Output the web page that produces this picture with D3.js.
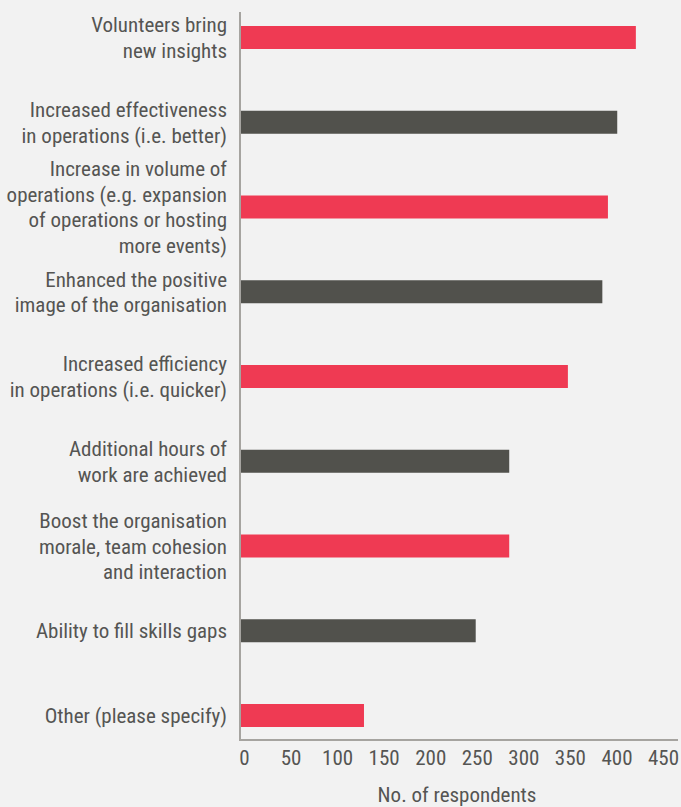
<!DOCTYPE html>
<html>
<head>
<meta charset="utf-8">
<script src="https://cdn.jsdelivr.net/npm/d3@7"></script>
<style>
  html, body { margin: 0; padding: 0; background: #f2f2f2; }
  svg { display: block; }
  text { font-family: "Liberation Sans Narrow", "Roboto Condensed", "Arial Narrow", sans-serif; fill: #555553; }
</style>
</head>
<body>
<svg id="chart" width="681" height="807"></svg>
<script>
const categories = [
  ["Volunteers bring", "new insights"],
  ["Increased effectiveness", "in operations (i.e. better)"],
  ["Increase in volume of", "operations (e.g. expansion", "of operations or hosting", "more events)"],
  ["Enhanced the positive", "image of the organisation"],
  ["Increased efficiency", "in operations (i.e. quicker)"],
  ["Additional hours of", "work are achieved"],
  ["Boost the organisation", "morale, team cohesion", "and interaction"],
  ["Ability to fill skills gaps"],
  ["Other (please specify)"]
];
const values = [423, 403, 393, 387, 350, 287, 287, 251, 131];
const xTicks = [0, 50, 100, 150, 200, 250, 300, 350, 400, 450];
const axisTitle = "No. of respondents";
const colors = ["#ef3a53", "#51514c"];

const svg = d3.select("#chart");
const x = d3.scaleLinear().domain([0, 450]).range([242, 661]);
const y = d3.scaleBand().domain(d3.range(categories.length)).range([26, 727]).paddingInner(0.7286).paddingOuter(0);

// bars
svg.selectAll("rect.bar").data(values).join("rect")
  .attr("class", "bar")
  .attr("x", x(0) - 1)
  .attr("y", (d, i) => y(i))
  .attr("width", d => x(d) - x(0) + 1)
  .attr("height", y.bandwidth())
  .attr("fill", (d, i) => colors[i % 2]);

// axes lines
svg.append("line").attr("x1", 240).attr("x2", 240).attr("y1", 12).attr("y2", 741)
  .attr("stroke", "#a6a4a0").attr("stroke-width", 2);
svg.append("line").attr("x1", 239).attr("x2", 678).attr("y1", 740).attr("y2", 740)
  .attr("stroke", "#a6a4a0").attr("stroke-width", 2);

// category labels
const fs = 21, lh = 25.5, capH = 15.4;
categories.forEach((lines, i) => {
  const cy = y(i) + y.bandwidth() / 2;
  const t = svg.append("text").attr("text-anchor", "end").attr("font-size", fs);
  lines.forEach((ln, j) => {
    t.append("tspan").attr("x", 227)
      .attr("y", cy - (lines.length - 1) * lh / 2 + j * lh + capH / 2)
      .text(ln);
  });
});

// x tick labels
const xAxis = d3.axisBottom(x).tickValues(xTicks).tickSize(0).tickPadding(0).tickFormat(d3.format("d"));
const gx = svg.append("g").attr("transform", "translate(2,750)").call(xAxis);
gx.select(".domain").remove();
gx.selectAll("text").attr("font-size", fs).attr("dy", "0.71em").style("font-family", null).attr("font-family", null).attr("fill", "#555553");

svg.append("text").attr("x", 457).attr("y", 802).attr("text-anchor", "middle").attr("font-size", fs).text(axisTitle);
</script>
</body>
</html>
